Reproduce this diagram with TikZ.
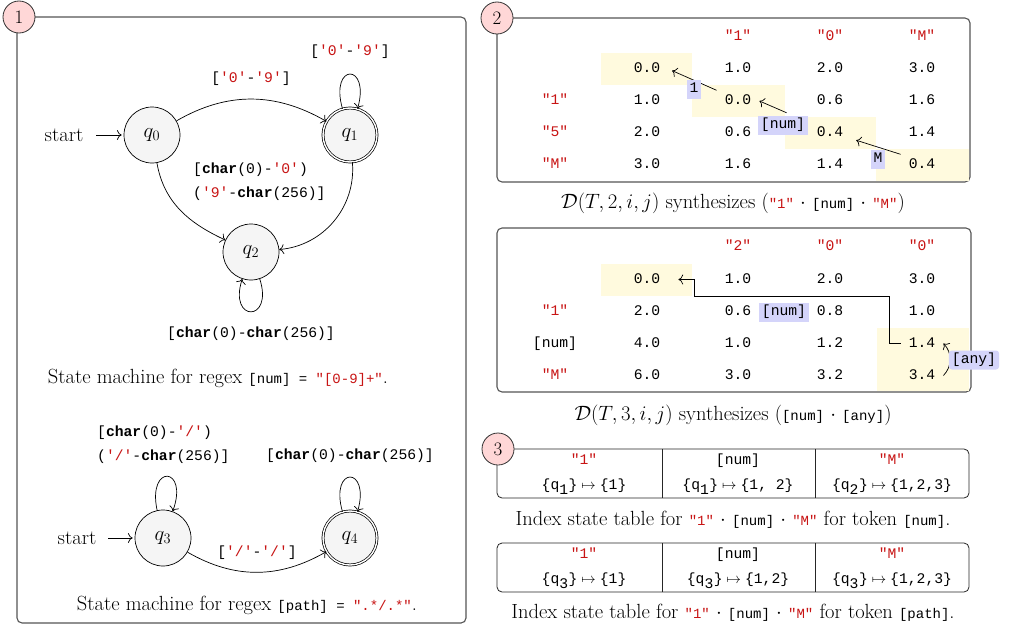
\documentclass[tikz,border=0pt]{standalone}
\usepackage{fontspec}
\setmonofont{Liberation Mono}
\usetikzlibrary{arrows.meta}
\definecolor{strred}{RGB}{200,20,20}
\definecolor{hl}{RGB}{255,250,222}
\definecolor{tagblue}{RGB}{212,212,250}
\definecolor{statefill}{RGB}{245,245,245}
\definecolor{numfill}{RGB}{255,215,215}
\definecolor{border}{RGB}{85,85,85}
\newcommand\mfs{\fontsize{14.7}{24}\selectfont\ttfamily}
\newcommand\capfs{\fontsize{20.5}{24}\selectfont}
\newcommand\cm[1]{{\fontsize{14}{16}\selectfont\ttfamily #1}}
\newcommand\sq[1]{\textcolor{strred}{#1}}
\newcommand\ch{\textbf{char}}
\newcommand\qs[1]{\{q$_{\texttt{#1}}$\}}
\newcommand\mt{$\;\mapsto\;$}
\begin{document}
\begin{tikzpicture}[x=1pt,y=-1pt,>={To[scale=1.5]},
  panel/.style={draw=border,line width=1.1pt,rounded corners=5pt},
  tbox/.style={draw=black!85,line width=0.8pt,rounded corners=5pt},
  numc/.style={circle,draw=black!80,fill=numfill,line width=0.8pt,minimum size=32pt,inner sep=0pt,font=\fontsize{19}{20}\selectfont},
  stnode/.style={circle,draw,fill=statefill,minimum size=56pt,inner sep=0pt,line width=0.7pt,font=\fontsize{22}{24}\selectfont},
  accepting/.style={double,double distance=1.4pt,minimum size=54pt},
  trans/.style={->,line width=0.7pt},
  lbl/.style={font=\mfs,inner sep=0pt},
  capt/.style={font=\capfs,inner sep=0pt},
  valn/.style={font=\mfs,text height=10pt,text depth=3pt,inner xsep=8pt,inner ysep=4pt},
  tagbox/.style={fill=tagblue,font=\mfs,text height=10pt,text depth=3pt,inner sep=3pt},
  hlc/.style={fill=hl,draw=none},
  initlbl/.style={font=\capfs,inner xsep=14pt,inner ysep=0pt}
]
\useasboundingbox (0,0) rectangle (1028,629);
\fill[white] (0,0) rectangle (1028,629);

% ---------------- panel 1
\draw[panel] (17,17) rectangle (466,623);
\node[numc] (n1) at (19,17) {1};

\node[stnode] (q0) at (152,135) {$q_0$};
\node[stnode,accepting] (q1) at (350,135) {$q_1$};
\node[stnode] (q2) at (251,252) {$q_2$};
\node[initlbl,inner xsep=13pt] (s0) at (64,135) {start};
\draw[trans,shorten >=2pt] (s0) -- (q0);
\draw[trans] (q0) to[out=30,in=150] (q1);
\draw[trans] (q1) to[out=106,in=74,min distance=48pt] (q1);
\draw[trans] (q0) to[out=-80,in=155] (q2);
\draw[trans] (q1) to[out=-85,in=5] (q2);
\draw[trans] (q2) to[out=-72,in=-108,min distance=46pt] (q2);
\node[lbl] (l01) at (251,79) {[\sq{'0'}-\sq{'9'}]};
\node[lbl] (l11) at (350,52) {[\sq{'0'}-\sq{'9'}]};
\node[lbl,anchor=west,align=left] (l02) at (193,181.5) {[\ch(0)-\sq{'0'})\\(\sq{'9'}-\ch(256)]};
\node[lbl] (l22) at (251,334) {[\ch(0)-\ch(256)]};
\node[capt] (c1) at (218,378) {State machine for regex \cm{[num] = \sq{"[0-9]+"}}.};

\node[stnode] (q3) at (163,538) {$q_3$};
\node[stnode,accepting] (q4) at (350,538) {$q_4$};
\node[initlbl,inner xsep=12pt] (s3) at (77,538) {start};
\draw[trans,shorten >=2pt] (s3) -- (q3);
\draw[trans] (q3) to[out=102,in=70,min distance=48pt] (q3);
\draw[trans] (q4) to[out=106,in=74,min distance=48pt] (q4);
\draw[trans] (q3) to[out=-30,in=-150] (q4);
\node[lbl,anchor=west,align=left] (l33) at (97,444.5) {[\ch(0)-\sq{'/'})\\(\sq{'/'}-\ch(256)]};
\node[lbl] (l44) at (350,456) {[\ch(0)-\ch(256)]};
\node[lbl] (l34) at (257,553) {[\sq{'/'}-\sq{'/'}]};
\node[capt] (c2) at (247,605) {State machine for regex \cm{[path] = \sq{".*/.*"}}.};

% ---------------- panel 2a
\draw[panel] (497,18) rectangle (970,182);
\fill[hlc] (601,53) rectangle (692,85);
\fill[hlc] (692,85) rectangle (785,117);
\fill[hlc] (785,117) rectangle (876,149);
\fill[hlc] (876,149) rectangle (969,181);
\node[numc] (n2) at (497,18) {2};
\node[valn] (ha-1) at (738,37) {\sq{"1"}};
\node[valn] (ha-2) at (830,37) {\sq{"0"}};
\node[valn] (ha-3) at (922,37) {\sq{"M"}};
\node[valn] (ra-1) at (555,101) {\sq{"1"}};
\node[valn] (ra-2) at (555,133) {\sq{"5"}};
\node[valn] (ra-3) at (555,165) {\sq{"M"}};
\foreach \r/\a/\b/\c/\d in {0/0.0/1.0/2.0/3.0,1/1.0/0.0/0.6/1.6,2/2.0/0.6/0.4/1.4,3/3.0/1.6/1.4/0.4}{
  \node[valn] (ta-\r-1) at (647,{69+32*\r}) {\a};
  \node[valn] (ta-\r-2) at (738,{69+32*\r}) {\b};
  \node[valn] (ta-\r-3) at (830,{69+32*\r}) {\c};
  \node[valn] (ta-\r-4) at (922,{69+32*\r}) {\d};
}
\draw[trans,shorten >=4pt] (ta-1-2.north west) -- (ta-0-1.east);
\draw[trans,shorten <=24pt] (ta-2-3.north west) -- (ta-1-2.east);
\draw[trans,shorten >=5pt] (ta-3-4.north west) -- (ta-2-3.-15);
\node[tagbox] (ga-1) at (694,89) {1};
\node[tagbox] (ga-2) at (783,125) {[num]};
\node[tagbox] (ga-3) at (878,159) {M};
\node[capt] (ca) at (733,203) {$\mathcal{D}(T,2,i,j)$ synthesizes (\cm{\sq{"1"}} $\cdot$ \cm{[num]} $\cdot$ \cm{\sq{"M"}})};

% ---------------- panel 2b
\draw[panel] (497,228) rectangle (971,392);
\fill[hlc] (601,263.5) rectangle (692,295.5);
\fill[hlc] (877,327.5) rectangle (969,390.5);
\node[valn] (hb-1) at (738,247) {\sq{"2"}};
\node[valn] (hb-2) at (830,247) {\sq{"0"}};
\node[valn] (hb-3) at (922,247) {\sq{"0"}};
\node[valn] (rb-1) at (555,311.5) {\sq{"1"}};
\node[valn] (rb-2) at (555,343.5) {[num]};
\node[valn] (rb-3) at (555,375.5) {\sq{"M"}};
\foreach \r/\a/\b/\c/\d in {0/0.0/1.0/2.0/3.0,1/2.0/0.6/0.8/1.0,2/4.0/1.0/1.2/1.4,3/6.0/3.0/3.2/3.4}{
  \node[valn] (tb-\r-1) at (647,{279.5+32*\r}) {\a};
  \node[valn] (tb-\r-2) at (738,{279.5+32*\r}) {\b};
  \node[valn] (tb-\r-3) at (830,{279.5+32*\r}) {\c};
  \node[valn] (tb-\r-4) at (922,{279.5+32*\r}) {\d};
}
\draw[trans,shorten >=10pt] (tb-2-4.west) -- ++(-11,0) -- ++(0,-47) -- ++(-195,0) -- ++(0,-17) -- (tb-0-1.east);
\draw[trans] (tb-3-4.east) to[bend right=45] (tb-2-4.east);
\node[tagbox] (gb-1) at (784,312) {[num]};
\node[tagbox,rounded corners=3pt] (gb-2) at (974,360) {[any]};
\node[capt] (cb) at (733,415) {$\mathcal{D}(T,3,i,j)$ synthesizes (\cm{[num]} $\cdot$ \cm{[any]})};

% ---------------- panel 3
\draw[tbox] (497,449) rectangle (969,498);
\draw[tbox] (662,449) -- (662,498);
\draw[tbox] (815,449) -- (815,498);
\node[numc] (n3) at (498,449) {3};
\node[valn] (s1-1) at (584,461) {\sq{"1"}};
\node[valn] (s1-2) at (738,461) {[num]};
\node[valn] (s1-3) at (892,461) {\sq{"M"}};
\node[valn] (s1-4) at (584,486) {\qs{1}\mt\{1\}};
\node[valn] (s1-5) at (738,486) {\qs{1}\mt\{1, 2\}};
\node[valn] (s1-6) at (892,486) {\qs{2}\mt\{1,2,3\}};
\node[capt] (c3) at (733,520) {Index state table for \cm{\sq{"1"}} $\cdot$ \cm{[num]} $\cdot$ \cm{\sq{"M"}} for token \cm{[num]}.};

\draw[tbox] (497,543) rectangle (969,592);
\draw[tbox] (662,543) -- (662,592);
\draw[tbox] (815,543) -- (815,592);
\node[valn] (s2-1) at (584,555) {\sq{"1"}};
\node[valn] (s2-2) at (738,555) {[num]};
\node[valn] (s2-3) at (892,555) {\sq{"M"}};
\node[valn] (s2-4) at (584,580) {\qs{3}\mt\{1\}};
\node[valn] (s2-5) at (738,580) {\qs{3}\mt\{1,2\}};
\node[valn] (s2-6) at (892,580) {\qs{3}\mt\{1,2,3\}};
\node[capt] (c4) at (733,613) {Index state table for \cm{\sq{"1"}} $\cdot$ \cm{[num]} $\cdot$ \cm{\sq{"M"}} for token \cm{[path]}.};
\end{tikzpicture}
\end{document}
